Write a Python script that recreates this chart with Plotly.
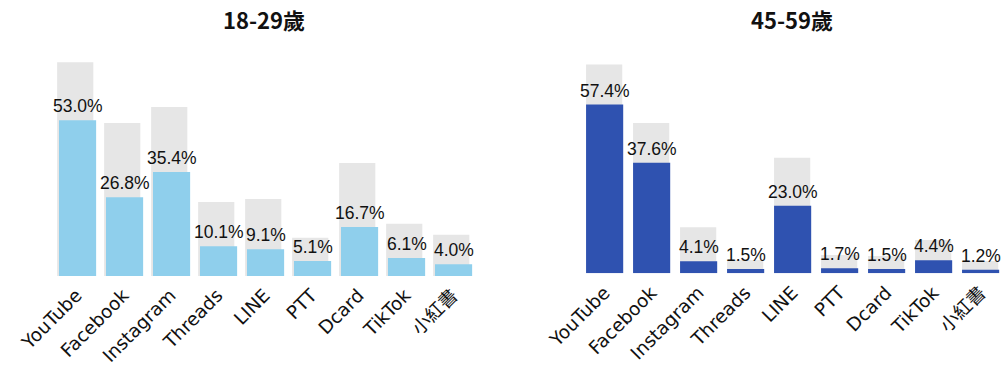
import plotly.graph_objects as go

categories = ["YouTube", "Facebook", "Instagram", "Threads", "LINE", "PTT", "Dcard", "TikTok", "小紅書"]
young_values = [53.0, 26.8, 35.4, 10.1, 9.1, 5.1, 16.7, 6.1, 4.0]
young_background = [72.7, 52.0, 57.5, 25.2, 26.2, 13.0, 38.4, 17.8, 14.0]
older_values = [57.4, 37.6, 4.1, 1.5, 23.0, 1.7, 1.5, 4.4, 1.2]
older_background = [71.0, 51.1, 15.7, 4.5, 39.3, 6.2, 5.9, 11.3, 4.2]
titles = ["18-29歲", "45-59歲"]

W, H = 1002, 367
scale = 2.94
top_px = 40.8
base_left, base_right = 276.0, 273.3

GREY = "#E6E6E6"
LIGHT = "#8FCFEC"
DARK = "#2F52B0"
FONT = "Liberation Sans, Arial, Noto Sans CJK TC, sans-serif"
TICKFONT = "DejaVu Sans, Verdana, Noto Sans CJK TC, sans-serif"

fig = go.Figure()
xs = list(range(len(categories)))
annotations = []

def add_panel(vals, bg, color, xa, ya, shift):
    fig.add_trace(go.Bar(x=xs, y=bg, marker=dict(color=GREY, line=dict(width=0)),
                         width=0.77, offset=-0.385 - shift, xaxis=xa, yaxis=ya, hoverinfo="skip",
                         showlegend=False))
    fig.add_trace(go.Bar(x=xs, y=vals, marker=dict(color=color, line=dict(width=0)),
                         width=0.79, offset=-0.395 + shift, xaxis=xa, yaxis=ya,
                         showlegend=False))
    for x, v in zip(xs, vals):
        annotations.append(dict(x=x + shift, y=v, xref=xa, yref=ya, text=f"{v:.1f}%",
                                showarrow=False, xanchor="center", yanchor="bottom", yshift=2,
                                font=dict(size=17.5, color="#111111", family=FONT)))

add_panel(young_values, young_background, LIGHT, "x", "y", 0.025)
add_panel(older_values, older_background, DARK, "x2", "y2", 0.005)

axis_common = dict(tickmode="array", tickvals=xs, ticktext=categories,
                   tickangle=-45, showgrid=False, zeroline=False, showline=False, ticks="",
                   automargin=False, ticklabelstandoff=4,
                   tickfont=dict(size=18.5, color="#111111", family=TICKFONT))

for i, t in enumerate(titles):
    cx = (52.9 + 475.9) / 2 / W if i == 0 else (580.9 + 1003.9) / 2 / W
    annotations.append(dict(text=f"<b>{t}</b>", x=cx, y=1 - 19 / H, xref="paper", yref="paper",
                            showarrow=False, xanchor="center", yanchor="middle",
                            font=dict(size=22, color="#111111", family="Noto Sans CJK TC, sans-serif")))

fig.update_layout(
    width=W, height=H, margin=dict(l=0, r=0, t=0, b=0, autoexpand=False),
    paper_bgcolor="white", plot_bgcolor="white", barmode="overlay",
    xaxis=dict(domain=[52.9 / W, 475.9 / W], range=[-0.5, 8.5], anchor="y", **axis_common),
    xaxis2=dict(domain=[580.9 / W, 1.0], range=[-0.5, 8.46], anchor="y2", **axis_common),
    yaxis=dict(domain=[(H - base_left) / H, 1 - top_px / H], range=[0, (base_left - top_px) / scale],
               visible=False, anchor="x", automargin=False),
    yaxis2=dict(domain=[(H - base_right) / H, 1 - top_px / H], range=[0, (base_right - top_px) / scale],
                visible=False, anchor="x2", automargin=False),
    annotations=annotations,
)

fig.write_html("out.html")
